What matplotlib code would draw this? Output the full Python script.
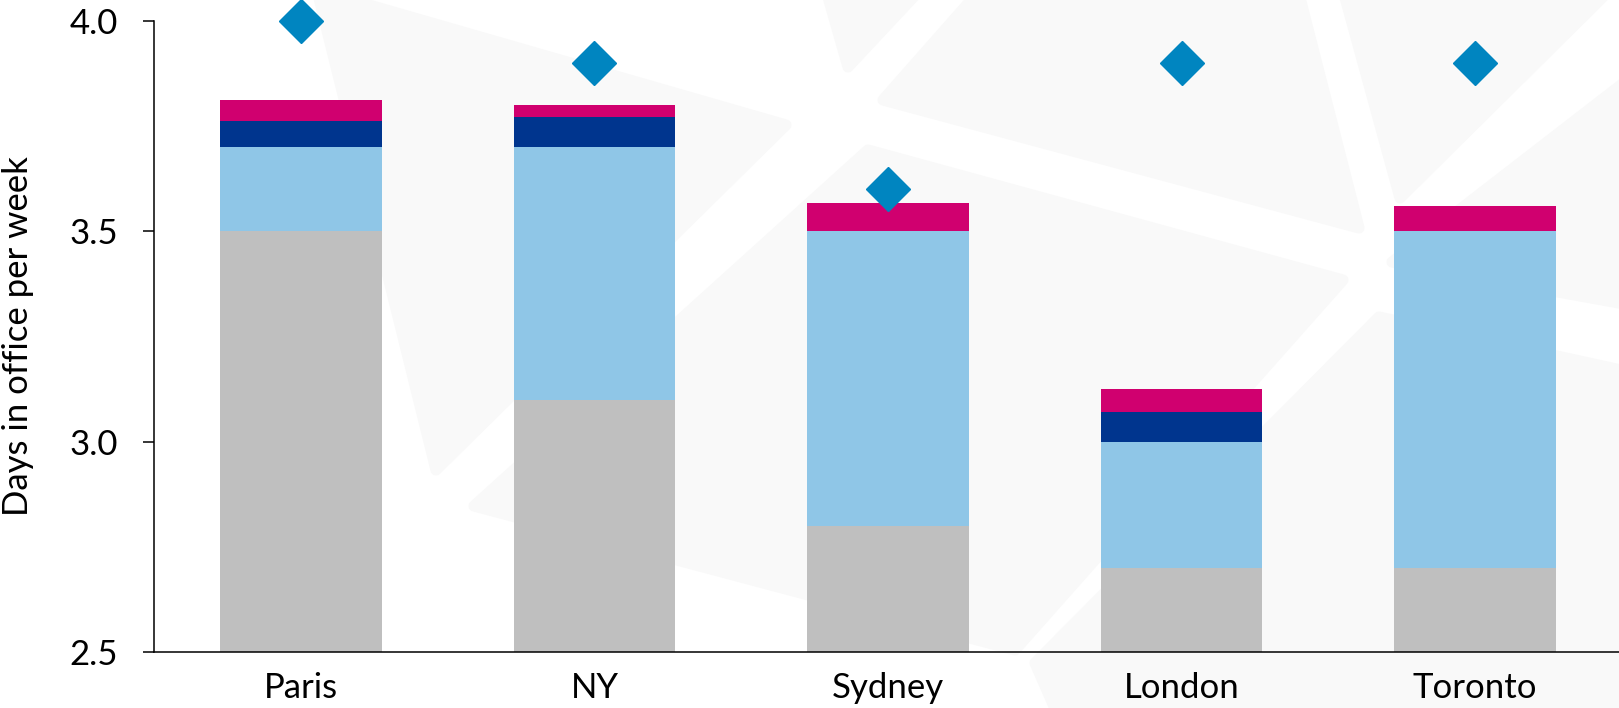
import matplotlib.pyplot as plt
from matplotlib.patches import Polygon

# data
cities = ['Paris', 'NY', 'Sydney', 'London', 'Toronto']
grey_part = [3.5, 3.1, 2.8, 2.7, 2.7]
light_blue_part = [0.2, 0.6, 0.7, 0.3, 0.8]
dark_blue_part = [0.062, 0.07, 0.0, 0.07, 0.0]
pink_part = [0.049, 0.03, 0.066, 0.055, 0.06]
diamonds = [4.0, 3.9, 3.6, 3.9, 3.9]

seg_colors = ['#BFBFBF', '#8FC6E7', '#00358E', '#D0006F']
diamond_color = '#0085C0'

plt.rcParams['font.family'] = ['Lato', 'DejaVu Sans']

W, H = 1619, 708
fig = plt.figure(figsize=(W / 100, H / 100), dpi=100)

# faint background shapes (pixel coords, origin top-left)
bg_shapes = [
    [(317, -10), (786, 125), (436, 470)],
    [(826, -10), (920, -10), (848, 67)],
    [(883, 100), (980, -10), (1298, -10), (1359, 228)],
    [(1343, -10), (1610, -10), (1400, 198)],
    [(1392, 262), (1630, 78), (1630, 305)],
    [(474, 506), (868, 150), (1343, 280), (1015, 650)],
    [(1379, 317), (1630, 372), (1630, 720), (1060, 720), (1035, 663)],
]
for pts in bg_shapes:
    fpts = [(x / W, 1 - y / H) for x, y in pts]
    fig.add_artist(Polygon(fpts, closed=True, transform=fig.transFigure,
                           facecolor='#F9F9F9', edgecolor='#F9F9F9',
                           linewidth=8, joinstyle='round', zorder=-1))

ax = fig.add_axes([154 / W, 55.7 / H, 1 - 154 / W, (652.3 - 20.5) / H])
ax.set_facecolor('none')

x = range(len(cities))
bottom = [0.0] * len(cities)
for part, c in zip([grey_part, light_blue_part, dark_blue_part, pink_part], seg_colors):
    ax.bar(x, part, bottom=bottom, width=0.55, color=c, linewidth=0, zorder=2)
    bottom = [b + p for b, p in zip(bottom, part)]

ax.plot(x, diamonds, linestyle='none', marker='D', markersize=22,
        color=diamond_color, clip_on=False, zorder=3)

ax.set_xlim(-0.5, 4.49)
ax.set_ylim(2.5, 4.0)
ax.set_yticks([2.5, 3.0, 3.5, 4.0])
ax.set_yticklabels(['2.5', '3.0', '3.5', '4.0'])
ax.set_xticks(list(x))
ax.set_xticklabels(cities)

for s in ['top', 'right']:
    ax.spines[s].set_visible(False)
for s in ['left', 'bottom']:
    ax.spines[s].set_linewidth(1.1)
    ax.spines[s].set_color('black')

ax.tick_params(axis='y', length=8, width=1.1, pad=18, labelsize=25)
ax.tick_params(axis='x', length=0, pad=14, labelsize=25)
ax.set_ylabel('Days in office per week', fontsize=25)
ax.yaxis.set_label_coords((34 - 154) / (W - 154), 0.5)

fig.savefig('out.png', dpi=100)
